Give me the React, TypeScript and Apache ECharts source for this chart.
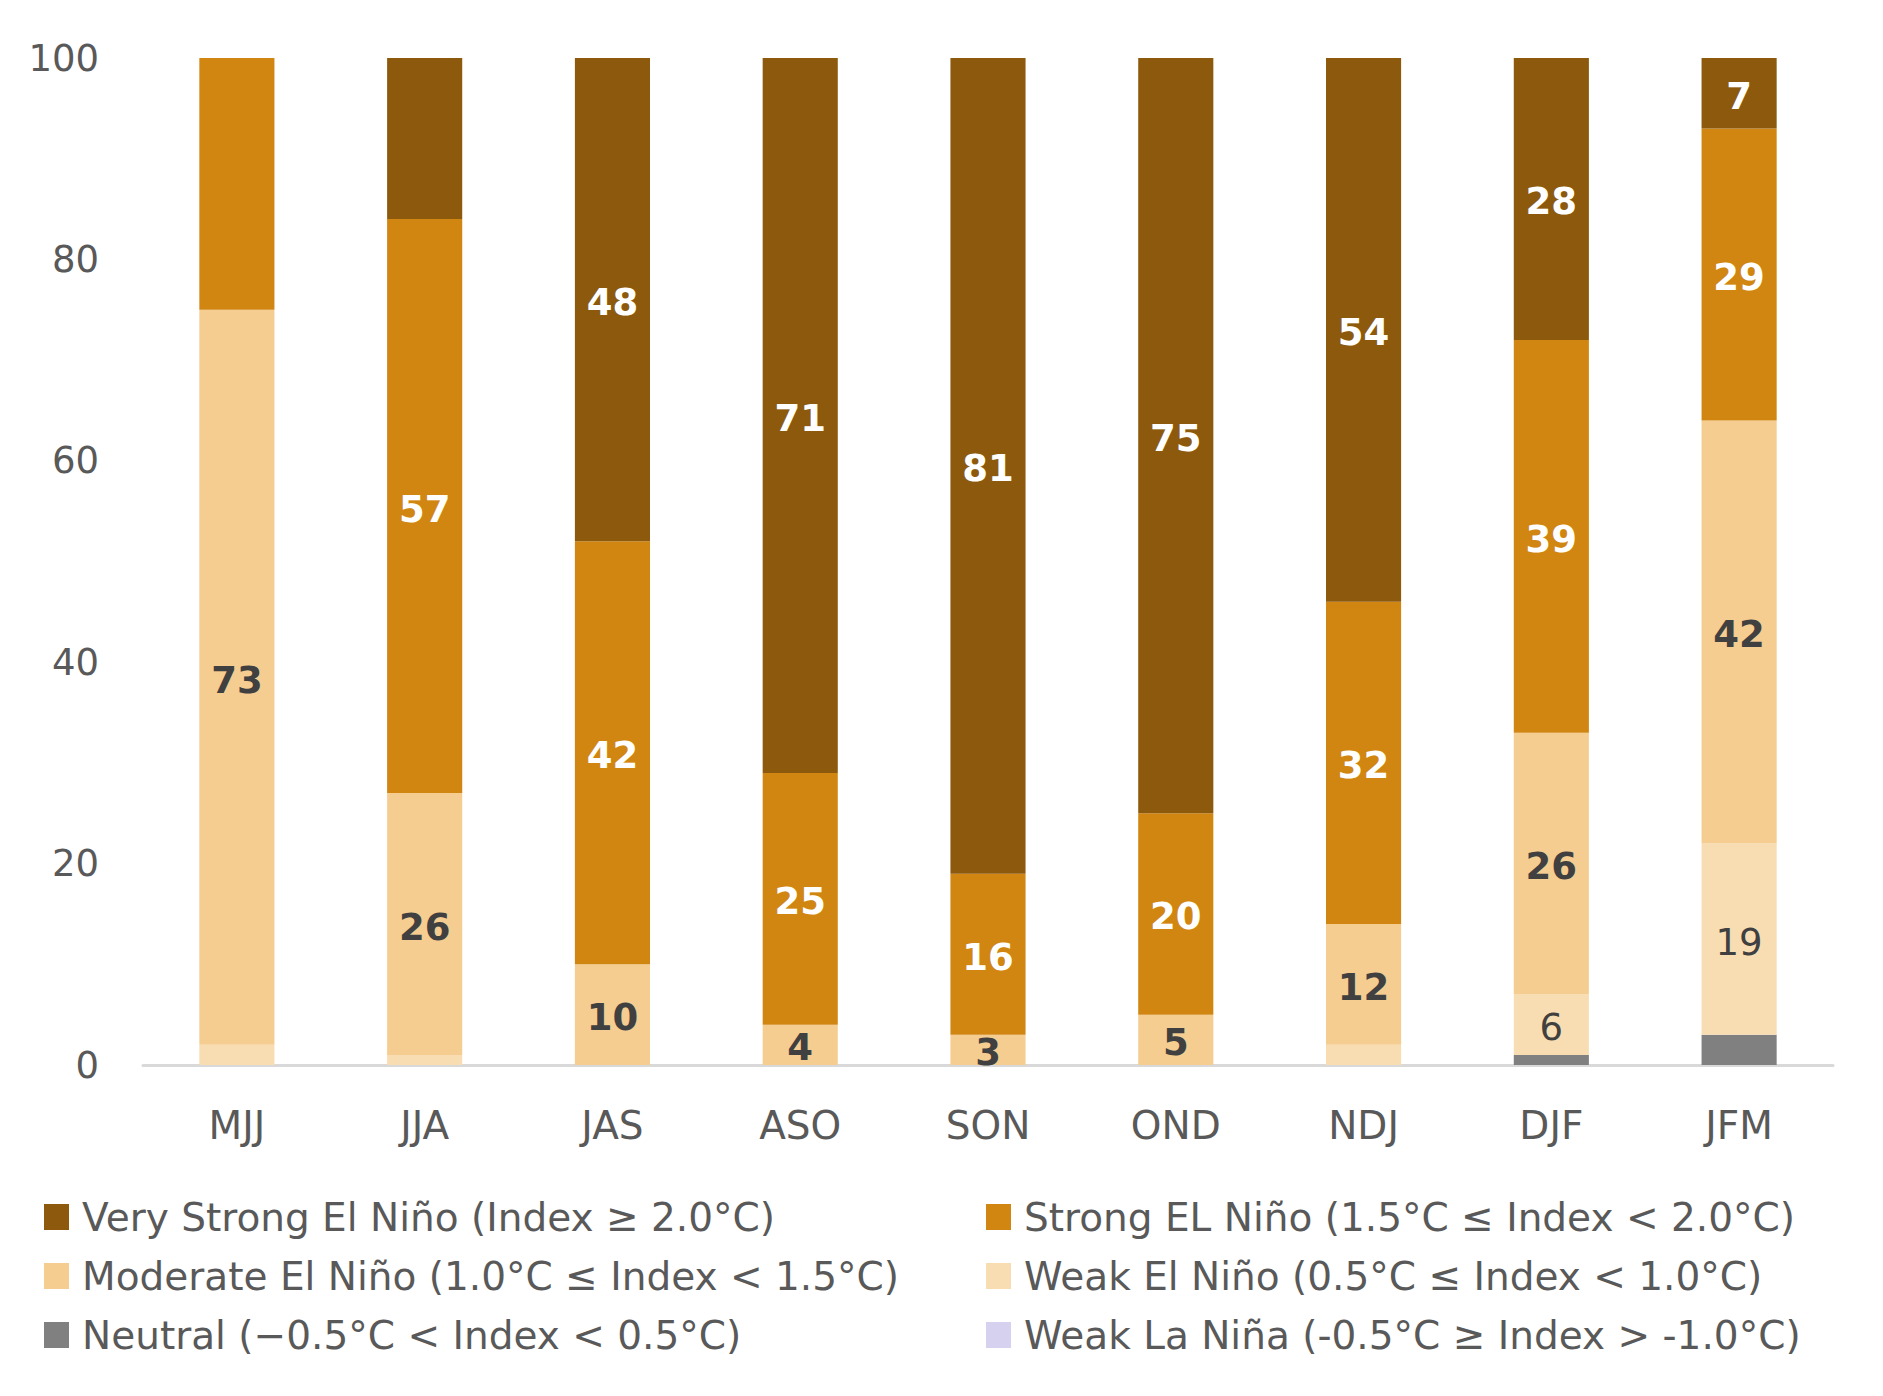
import React, { useEffect, useRef } from "react";
import * as echarts from "echarts";

const categories = ["MJJ", "JJA", "JAS", "ASO", "SON", "OND", "NDJ", "DJF", "JFM"];
const neutral = [0, 0, 0, 0, 0, 0, 0, 1, 3];
const weakElNino = [2, 1, 0, 0, 0, 0, 2, 6, 19];
const moderateElNino = [73, 26, 10, 4, 3, 5, 12, 26, 42];
const strongElNino = [25, 57, 42, 25, 16, 20, 32, 39, 29];
const veryStrongElNino = [0, 16, 48, 71, 81, 75, 54, 28, 7];
const weakLaNina = [0, 0, 0, 0, 0, 0, 0, 0, 0];
const yTicks = [0, 20, 40, 60, 80, 100];

// categories whose data label is not shown in the reference
const hiddenStrongLabels = ["MJJ"];
const hiddenVeryStrongLabels = ["JJA"];

const names = {
  vs: "Very Strong El Niño (Index ≥ 2.0°C)",
  s: "Strong EL Niño (1.5°C ≤ Index < 2.0°C)",
  m: "Moderate El Niño (1.0°C ≤ Index < 1.5°C)",
  w: "Weak El Niño (0.5°C ≤ Index < 1.0°C)",
  n: "Neutral (−0.5°C < Index < 0.5°C)",
  ln: "Weak La Niña (-0.5°C ≥ Index > -1.0°C)",
};

const FONT = "'DejaVu Sans', sans-serif";

export default function App() {
  const ref = useRef<HTMLDivElement>(null);
  useEffect(() => {
    document.body.style.margin = "0";
    const chart = echarts.init(ref.current!, null, { renderer: "svg" });

    const mk = (
      name: string,
      values: number[],
      color: string,
      labelColor: string,
      fontWeight: string,
      showFn: (v: number, i: number) => boolean
    ) => ({
      name,
      type: "bar",
      stack: "total",
      barCategoryGap: "60%",
      itemStyle: { color },
      data: values.map((v, i) => ({
        value: v,
        label: {
          show: showFn(v, i),
          position: "inside",
          color: labelColor,
          fontWeight,
          fontSize: 37,
          fontFamily: FONT,
          formatter: "{c}",
          offset: [0, 3],
        },
      })),
    });

    const legendBase = {
      orient: "vertical",
      top: 1197,
      padding: 0,
      itemWidth: 25,
      itemHeight: 26,
      itemGap: 19,
      icon: "rect",
      textStyle: {
        color: "#595959",
        fontSize: 39,
        fontFamily: FONT,
        lineHeight: 40,
        padding: [0, 0, 0, 8],
      },
    };

    chart.setOption({
      animation: false,
      backgroundColor: "#ffffff",
      grid: { left: 143, right: 50, top: 58, bottom: 331, containLabel: false },
      xAxis: {
        type: "category",
        data: categories,
        axisLine: { show: true, lineStyle: { color: "#d9d9d9", width: 3 } },
        axisTick: { show: false },
        axisLabel: { color: "#595959", fontSize: 39, fontFamily: FONT, margin: 41 },
      },
      yAxis: {
        type: "value",
        min: yTicks[0],
        max: yTicks[yTicks.length - 1],
        interval: 20,
        axisLine: { show: false },
        axisTick: { show: false },
        splitLine: { show: false },
        axisLabel: { color: "#595959", fontSize: 37, fontFamily: FONT, margin: 44 },
      },
      legend: [
        { ...legendBase, left: 44, data: [names.vs, names.m, names.n] },
        { ...legendBase, left: 986, data: [names.s, names.w, names.ln] },
      ],
      series: [
        mk(names.n, neutral, "#808080", "#404040", "normal", () => false),
        mk(names.w, weakElNino, "#F8DDB3", "#404040", "normal", (v) => v >= 5),
        mk(names.m, moderateElNino, "#F5CD90", "#404040", "bold", (v) => v >= 3),
        mk(names.s, strongElNino, "#D18612", "#ffffff", "bold",
          (v, i) => v >= 3 && !hiddenStrongLabels.includes(categories[i])),
        mk(names.vs, veryStrongElNino, "#8D590D", "#ffffff", "bold",
          (v, i) => v >= 3 && !hiddenVeryStrongLabels.includes(categories[i])),
        mk(names.ln, weakLaNina, "#D5D1EE", "#404040", "normal", () => false),
      ],
    });
    return () => chart.dispose();
  }, []);
  return <div ref={ref} style={{ width: 1883, height: 1396 }} />;
}
